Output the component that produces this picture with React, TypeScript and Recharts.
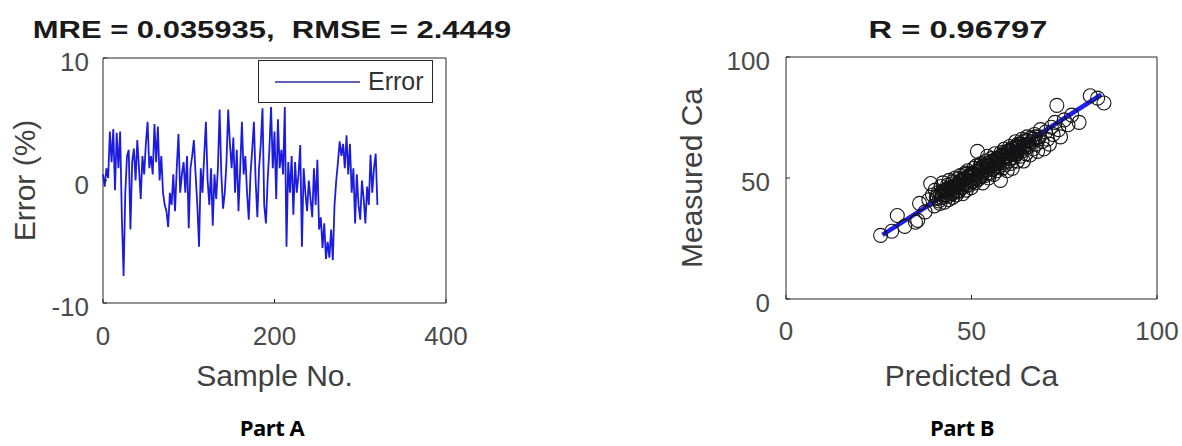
import { LineChart, Line, XAxis, YAxis, Label, ComposedChart, Scatter, ReferenceArea } from 'recharts';

// error (%) per sample, every second sample
const SAMPLE_STEP = 2;
const ERROR_VALUES = [
  0.5, -0.5, 1.0, 0.2, 4.0, 1.5, 4.2, -0.8, 3.9, 1.0,
  4.0, -3.0, -7.8, -1.0, 2.0, 2.5, -4.0, 1.5, 2.6,
  0.0, 3.3, 1.0, -1.5, 2.0, 0.5, 3.0, 4.8, 1.0, 2.0,
  0.5, 4.6, 1.5, 4.4, 0.0, 2.0, -1.0, -2.0, -2.5,
  -3.8, -1.0, -2.0, 0.5, -2.5, 1.0, 3.8, -1.0, 0.5, 1.5,
  -1.0, 2.0, -3.9, 1.0, 2.0, 3.3, 0.5, -2.0, -5.4,
  1.0, -1.0, 2.0, 4.8, 0.0, -2.0, 1.0, -3.7, 0.5, -1.5,
  1.0, 5.8, 0.5, -2.3, -1.0, 1.5, 5.8, 3.0, 1.0,
  3.5, -1.0, 2.5, -2.5, 1.0, 4.8, 0.5, 2.0, -1.0, -3.2,
  0.5, 2.5, 4.8, 0.0, -3.0, 1.0, 3.0, 5.9, -2.0,
  -3.5, 0.0, 2.5, 6.0, 1.0, 4.0, -1.5, 5.0, 1.0, 2.5,
  0.5, 6.0, -5.4, 1.5, -1.0, 2.0, -2.8, 1.5, -1.0,
  0.5, 2.9, -5.4, 1.0, -1.0, -2.5, 0.0, -1.5, -3.0, 1.0,
  -2.0, 1.7, -4.0, -3.0, -5.5, -3.5, -6.4, -5.0, -6.3,
  -4.0, -6.5, -2.0, 0.0, 1.5, 3.2, 2.0, 3.0, 1.0, 3.7,
  0.5, 3.0, -1.0, 1.0, -3.5, 0.5, -2.0, -3.2, 0.0, -1.5,
  -3.5, -0.5, -2.0, 2.1, -1.0, 1.0, 2.2, -2.0,
];

const SAMPLE_TICKS = [0, 200, 400];
const ERROR_TICKS = [-10, 0, 10];

// predicted vs measured Ca
const PREDICTED_CA = [
  25.5, 30, 34.9, 32, 28.5, 36, 37.5, 35.5,
  38.5, 39, 39.5, 40, 40.2, 40.8, 41, 41.5, 41.8, 42, 42.3, 42.7,
  43, 43.2, 43.5, 43.8, 44, 44.3, 44.6, 44.9, 45, 45.3,
  45.6, 45.9, 46, 46.3, 46.6, 46.9, 47, 47.3, 47.6, 47.9,
  48, 48.3, 48.6, 48.9, 49, 49.3, 49.6, 49.9, 50, 50.3,
  50.6, 50.9, 51, 51.3, 51.6, 51.9, 52, 52.3, 52.6, 52.9,
  53, 53.3, 53.6, 53.9, 54, 54.3, 54.6, 54.9, 55, 55.3,
  55.6, 55.9, 56, 56.3, 56.6, 56.9, 57, 57.3, 57.8, 58,
  58.3, 58.6, 58.9, 59, 59.3, 59.6, 59.9, 60, 60.3, 60.6,
  60.9, 61, 61.3, 61.6, 61.9, 62, 62.4, 62.8, 63.2, 63.6,
  64, 64.3, 64.7, 65, 65.4, 65.8, 66.2, 66.6, 67, 67.4,
  67.8, 68.2, 68.6, 69, 69.5, 70, 70.5, 71, 71.5, 72,
  72.5, 73, 73.5, 74, 75, 76, 77, 79, 82, 85.7, 84,
  42.5, 44, 46.5, 48.5, 50.5, 52.5, 54.5, 56.5, 58.5, 60.5, 62.5, 64.5,
  40.5, 41.2, 41.7, 42.2, 42.8, 43.4, 44.1, 44.7, 45.2, 45.8,
  46.4, 47.1, 47.7, 48.2, 48.8, 49.4, 50.1, 50.7, 51.2, 51.8,
  52.4, 53.1, 53.7, 54.2, 54.8, 55.4, 56.1, 56.7, 57.2, 57.9,
  58.4, 59.1, 59.7, 60.2, 60.8, 61.4, 62.1, 62.7, 63.3, 63.9,
  64.5, 65.2, 65.9, 66.5, 67.2, 68,
  42.1, 43.1, 44.2, 45.1, 46.2, 47.2, 48.1, 49.2, 50.2, 51.1,
  52.2, 53.2, 54.1, 55.2, 56.2, 57.1, 58.2, 59.2, 60.1, 61.2,
  62.2, 63.1, 64.2, 65.1,
  43.6, 44.8, 46.1, 47.4, 48.7, 50.4, 51.6, 52.8, 54.4, 55.7,
  57.4, 58.8, 60.4, 61.8, 63.5,
];
const MEASURED_CA = [
  26.3, 34.5, 31.7, 30, 28, 39.5, 36, 32.5,
  41, 47.7, 43, 38.5, 45, 41.5, 44, 39.5, 46.5, 42, 48, 40,
  45, 43, 47, 41, 49, 44, 46, 42, 48.5, 45,
  50, 43, 47, 49.5, 44.5, 48, 51, 46, 43.5, 50,
  47.5, 52, 45, 49, 53, 47, 50.5, 46, 52, 49,
  54, 48, 51, 55, 61, 49.5, 53, 50.5, 56, 52,
  48, 54.5, 51, 57, 53, 59, 50, 55, 52, 58,
  54, 56.5, 51.5, 60, 55, 53, 58, 56, 49, 60.5,
  54, 57.5, 62, 55.5, 59, 53, 61, 57, 63, 56,
  60, 54, 62, 58.5, 65, 60, 57, 63, 59, 66,
  57, 62, 60, 67, 63, 59.5, 65, 62, 68, 64,
  61, 67, 70, 65, 62, 69, 66, 64, 71, 68,
  73, 80, 70, 67, 74, 72, 76, 73, 84, 81, 83,
  44.5, 46, 47.5, 51.5, 51, 55.5, 55.5, 56, 60, 60, 64, 63.5,
  42, 40.5, 43.5, 44.5, 43, 45.5, 45, 47.5, 44, 46.5,
  46, 48.5, 47, 49.5, 48, 51, 50, 51.5, 50, 53,
  52.5, 55, 53.5, 56, 54, 57, 56, 58, 57, 59,
  58.5, 60, 59, 61.5, 61, 60, 63, 61.5, 64, 63,
  65.5, 64, 66.5, 66, 67, 66,
  43, 44.5, 45.5, 46.5, 47.5, 49, 49.5, 50.5, 51.5, 52.5,
  54, 54.5, 55, 56.5, 57, 58, 59.5, 60, 61, 62.5,
  62.5, 64, 65, 65.5,
  42.5, 43.5, 44.5, 46, 47, 48.5, 49.5, 51, 52, 53.5,
  55, 56.5, 58, 59.5, 61,
];

// least-squares fit line end points
const FIT_PREDICTED = [26, 85];
const FIT_MEASURED = [26.5, 84.5];

const CA_TICKS = [0, 50, 100];

const errorData = ERROR_VALUES.map((e, i) => ({ sample: i * SAMPLE_STEP, error: e }));
const caData = PREDICTED_CA.map((p, i) => ({ predicted: p, measured: MEASURED_CA[i] }));
const fitData = FIT_PREDICTED.map((p, i) => ({ predicted: p, measured: FIT_MEASURED[i] }));

const FONT = '"Liberation Sans", Arial, Helvetica, sans-serif';
const FRAME = '#262626';
const tickLineStyle = { stroke: FRAME, strokeWidth: 1 };
const xTickStyle = { fill: '#4a4a4a', fontSize: 26, fontFamily: FONT };
const yTickStyle = { fill: '#4a4a4a', fontSize: 26, fontFamily: FONT, dy: 4 };
const axisLabelStyle = { fill: '#404040', fontSize: 30, fontFamily: FONT };

const titleStyle: React.CSSProperties = {
  position: 'absolute',
  fontFamily: FONT,
  fontWeight: 'bold',
  fontSize: 24,
  color: '#1a1a1a',
  whiteSpace: 'pre',
  lineHeight: '28px',
};

const partStyle: React.CSSProperties = {
  position: 'absolute',
  fontFamily: '"Open Sans", sans-serif',
  fontWeight: 700,
  fontSize: 22,
  color: '#000',
  transform: 'translateX(-50%)',
  letterSpacing: -0.5,
  lineHeight: '30px',
};

function ErrorLegend() {
  return (
    <div
      style={{
        position: 'absolute',
        left: 258,
        top: 60,
        width: 173,
        height: 41,
        border: '1px solid #262626',
        background: '#fff',
        display: 'flex',
        alignItems: 'center',
        fontFamily: FONT,
        fontSize: 25,
        color: '#333',
      }}
    >
      <svg width={109} height={20}>
        <line x1={16} y1={10} x2={101} y2={10} stroke="#2b2ba0" strokeWidth={1.3} />
      </svg>
      <span>Error</span>
    </div>
  );
}

function Circle(props: { cx?: number; cy?: number }) {
  const { cx, cy } = props;
  if (cx == null || cy == null) return null;
  return <circle cx={cx} cy={cy} r={7} fill="none" stroke="#141414" strokeWidth={1.1} />;
}

export default function App() {
  return (
    <div style={{ position: 'absolute', left: 0, top: 0, width: 1182, height: 446, background: '#fff', overflow: 'hidden' }}>
      <div style={{ ...titleStyle, left: 272, top: 16, transform: 'translateX(-50%) scaleX(1.29)' }}>
        {'MRE = 0.035935,  RMSE = 2.4449'}
      </div>
      <div style={{ ...titleStyle, left: 958, top: 16, transform: 'translateX(-50%) scaleX(1.36)' }}>R = 0.96797</div>

      <div style={{ position: 'absolute', left: 0, top: 0 }}>
        <LineChart width={480} height={420} data={errorData} margin={{ top: 58, right: 34, bottom: 77, left: 40 }}>
          <XAxis
            dataKey="sample"
            type="number"
            domain={[0, 400]}
            ticks={SAMPLE_TICKS}
            axisLine={false}
            tickLine={tickLineStyle}
            tickSize={-4}
            tickMargin={28}
            tick={xTickStyle}
            height={40}
          >
            <Label value="Sample No." position="bottom" offset={22} style={axisLabelStyle} />
          </XAxis>
          <YAxis
            type="number"
            domain={[-10, 10]}
            ticks={ERROR_TICKS}
            axisLine={false}
            tickLine={tickLineStyle}
            tickSize={-4}
            tickMargin={18}
            tick={yTickStyle}
            width={63}
          >
            <Label value="Error (%)" angle={-90} position="left" offset={16} style={{ ...axisLabelStyle, textAnchor: 'middle' }} />
          </YAxis>
          <ReferenceArea x1={0} x2={400} y1={-10} y2={10} fill="none" stroke={FRAME} strokeWidth={1} ifOverflow="visible" />
          <Line
            type="linear"
            dataKey="error"
            name="Error"
            stroke="#1c1ce0"
            strokeWidth={1.8}
            dot={false}
            isAnimationActive={false}
          />
        </LineChart>
      </div>
      <ErrorLegend />

      <div style={{ position: 'absolute', left: 640, top: 0 }}>
        <ComposedChart width={542} height={420} margin={{ top: 57, right: 25, bottom: 81, left: 60 }}>
          <XAxis
            dataKey="predicted"
            type="number"
            domain={[0, 100]}
            ticks={CA_TICKS}
            axisLine={false}
            tickLine={tickLineStyle}
            tickSize={-4}
            tickMargin={27}
            tick={xTickStyle}
            height={40}
          >
            <Label value="Predicted Ca" position="bottom" offset={26} style={axisLabelStyle} />
          </XAxis>
          <YAxis
            type="number"
            domain={[0, 100]}
            ticks={CA_TICKS}
            axisLine={false}
            tickLine={tickLineStyle}
            tickSize={-4}
            tickMargin={20}
            tick={yTickStyle}
            width={86}
          >
            <Label value="Measured Ca" angle={-90} position="left" offset={9} style={{ ...axisLabelStyle, textAnchor: 'middle' }} />
          </YAxis>
          <ReferenceArea x1={0} x2={100} y1={0} y2={100} fill="none" stroke={FRAME} strokeWidth={1} ifOverflow="visible" />
          <Scatter data={caData} dataKey="measured" shape={<Circle />} isAnimationActive={false} />
          <Line
            data={fitData}
            type="linear"
            dataKey="measured"
            stroke="#1f1ff2"
            strokeWidth={4.5}
            dot={false}
            isAnimationActive={false}
          />
        </ComposedChart>
      </div>

      <div style={{ ...partStyle, left: 272, top: 412 }}>Part A</div>
      <div style={{ ...partStyle, left: 962, top: 412 }}>Part B</div>
    </div>
  );
}
